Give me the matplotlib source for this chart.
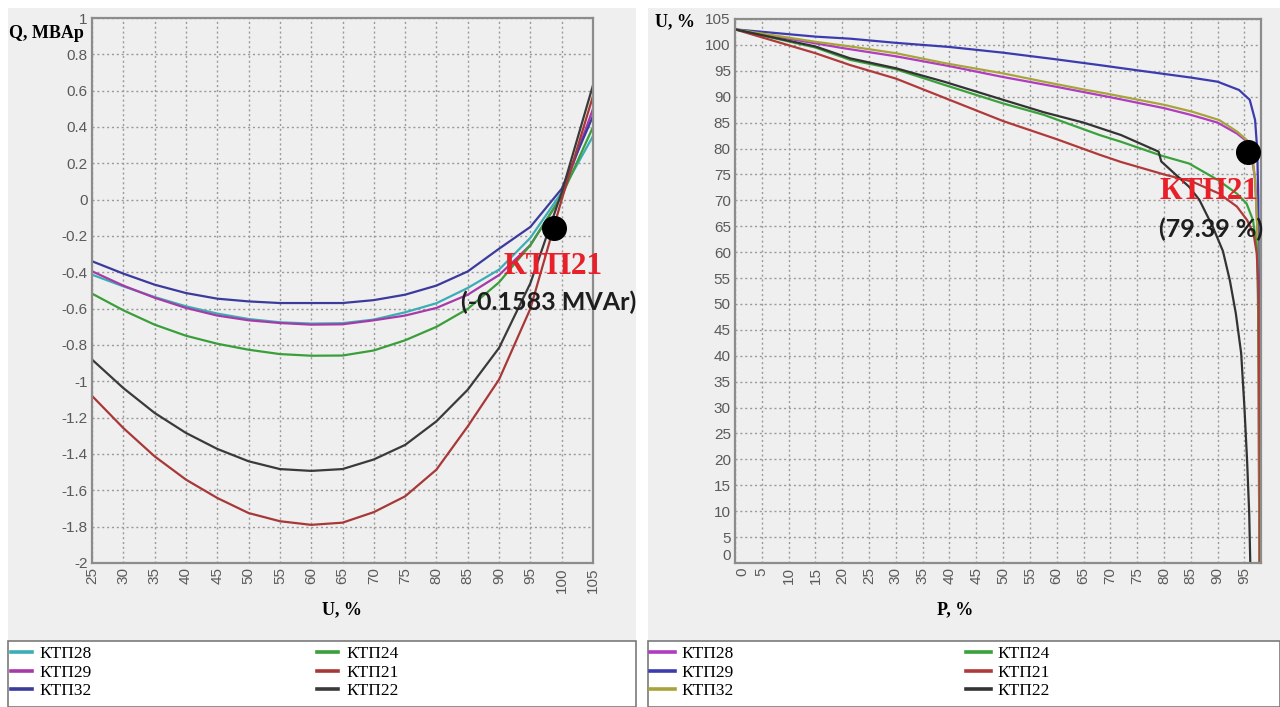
import numpy as np
import matplotlib
matplotlib.use('Agg')
import matplotlib.pyplot as plt
from matplotlib.patches import Rectangle

# ---- left chart: Q (MVAr) vs U (%)
u_left = [25, 30, 35, 40, 45, 50, 55, 60, 65, 70, 75, 80, 85, 90, 95, 100, 105]
q_ktp28 = [-0.413, -0.477, -0.536, -0.587, -0.627, -0.657, -0.675, -0.682, -0.68, -0.66, -0.62, -0.57, -0.486, -0.385, -0.21, 0.04, 0.35]
q_ktp29 = [-0.394, -0.473, -0.54, -0.596, -0.638, -0.664, -0.679, -0.688, -0.686, -0.664, -0.638, -0.596, -0.523, -0.415, -0.25, 0.02, 0.50]
q_ktp32 = [-0.339, -0.407, -0.468, -0.514, -0.545, -0.56, -0.569, -0.569, -0.569, -0.553, -0.523, -0.473, -0.395, -0.27, -0.15, 0.06, 0.46]
q_ktp24 = [-0.517, -0.609, -0.688, -0.749, -0.793, -0.826, -0.85, -0.859, -0.858, -0.83, -0.774, -0.70, -0.601, -0.455, -0.25, 0.02, 0.40]
q_ktp21 = [-1.08, -1.257, -1.413, -1.541, -1.642, -1.725, -1.77, -1.79, -1.778, -1.72, -1.633, -1.486, -1.248, -0.99, -0.60, 0.0, 0.57]
q_ktp22 = [-0.88, -1.037, -1.174, -1.284, -1.372, -1.44, -1.483, -1.493, -1.483, -1.43, -1.35, -1.22, -1.046, -0.816, -0.46, 0.04, 0.63]
q_ticks = ['-2', '-1.8', '-1.6', '-1.4', '-1.2', '-1', '-0.8', '-0.6', '-0.4', '-0.2',
           '0', '0.2', '0.4', '0.6', '0.8', '1']

# ---- right chart: U (%) vs P (%)
p_ktp28 = [0, 10, 20, 30, 40, 50, 60, 70, 80, 85, 90, 93.6, 95.2, 96.3, 97.0, 97.4, 97.6, 97.8]
u_ktp28 = [103, 101.2, 99.4, 97.8, 95.9, 93.8, 91.9, 89.9, 87.8, 86.5, 85.0, 82.9, 81.6, 79.0, 74, 65, 45, 0]
p_ktp29 = [0, 15, 21.5, 30, 40, 50, 60, 68, 75, 85, 90, 94, 96, 97, 97.4, 97.6, 97.7, 97.8]
u_ktp29 = [103, 101.6, 101.2, 100.4, 99.6, 98.5, 97.2, 96.1, 95.1, 93.7, 92.9, 91.3, 89.4, 85.5, 79.7, 70, 50, 0]
p_ktp32 = [0, 15, 21.5, 30, 39, 50, 57.6, 65, 69.3, 80.2, 85.3, 90.3, 93.6, 95.5, 96.4, 97.0, 97.4, 97.6, 97.8]
u_ktp32 = [103, 100.6, 99.7, 98.4, 96.5, 94.5, 92.9, 91.4, 90.6, 88.4, 87.1, 85.5, 83.3, 81.6, 79.5, 74, 65, 45, 0]
p_ktp24 = [0, 15, 21.5, 30, 39, 50, 57.6, 68, 72, 79.6, 84.7, 90.1, 93.6, 95.4, 96.6, 97.4, 97.6, 97.8, 97.9]
u_ktp24 = [103, 99.5, 97.1, 95.3, 92.3, 88.7, 86.5, 82.6, 81.3, 78.6, 77.1, 73.9, 71.3, 69.4, 66.2, 60.4, 50.7, 30, 0]
p_ktp21 = [0, 15, 21.5, 30, 40, 50, 60, 68, 72, 80, 85.3, 90.3, 93.6, 95.5, 96.7, 97.3, 97.6, 97.8, 97.9]
u_ktp21 = [103, 98.4, 96.1, 93.5, 89.4, 85.3, 81.8, 78.8, 77.4, 75.0, 73.6, 71.3, 68.8, 66.2, 63.6, 59.8, 54, 30, 0]
p_ktp22 = [0, 15, 21.5, 30, 39, 50, 57.6, 65, 72, 79, 79.5, 84.7, 86.6, 89.1, 91.0, 92.3, 93.4, 94.4, 95.0, 95.5, 95.9, 96.1]
u_ktp22 = [103, 99.7, 97.4, 95.5, 92.9, 89.4, 87.0, 85.0, 82.6, 79.4, 77.5, 72.6, 70.1, 64.9, 60.2, 54.5, 48.2, 40.5, 30.2, 19.9, 9.6, 0]

# marked points
mark_left = (98.8, -0.1583)
mark_right = (95.6, 79.39)

W, H = 1280, 707
BG = '#efefef'
GRID = '#9a9a9a'
SPINE = '#8c8c8c'
TICK = '#5a5a5a'


def fx(x):
    return x / W


def fy(y):
    return 1 - y / H


fig = plt.figure(figsize=(W / 100, H / 100), dpi=100, facecolor='white')

# panel backgrounds and legend boxes
for x0, x1 in [(8, 636), (648, 1280)]:
    fig.add_artist(Rectangle((fx(x0), fy(641)), fx(x1 - x0), (641 - 8) / H,
                             transform=fig.transFigure, facecolor=BG, edgecolor='none', zorder=-2))
fig.add_artist(Rectangle((fx(8), fy(707)), fx(636 - 8), 66 / H, transform=fig.transFigure,
                         facecolor='white', edgecolor='#7a7a7a', lw=1.2, zorder=-1))
fig.add_artist(Rectangle((fx(648), fy(707)), fx(1280 - 648), 66 / H, transform=fig.transFigure,
                         facecolor='white', edgecolor='#7a7a7a', lw=1.2, zorder=-1))

ax1 = fig.add_axes([fx(92), fy(563), fx(593 - 92), (563 - 18) / H])
ax2 = fig.add_axes([fx(735), fy(563), fx(1261 - 735), (563 - 19) / H])

for ax in (ax1, ax2):
    ax.set_facecolor(BG)
    ax.grid(True, color=GRID, linestyle=(0, (1.5, 2)), linewidth=1)
    for s in ax.spines.values():
        s.set_color(SPINE)
        s.set_linewidth(1.6)
    ax.tick_params(length=0, pad=3, labelcolor=TICK, labelsize=11)
    ax.tick_params(axis='x', labelrotation=90)

lw = 1.6
# left chart
l1 = ax1.plot(u_left, q_ktp28, color='#3aaeb4', lw=lw, label='КТП28')[0]
l2 = ax1.plot(u_left, q_ktp29, color='#a73aa8', lw=lw, label='КТП29')[0]
l3 = ax1.plot(u_left, q_ktp32, color='#3c3a9c', lw=lw, label='КТП32')[0]
l4 = ax1.plot(u_left, q_ktp24, color='#3a9e3a', lw=lw, label='КТП24')[0]
l5 = ax1.plot(u_left, q_ktp21, color='#a83838', lw=lw, label='КТП21')[0]
l6 = ax1.plot(u_left, q_ktp22, color='#3a3a3a', lw=lw, label='КТП22')[0]
ax1.plot(*mark_left, 'o', color='black', ms=17, clip_on=False, zorder=5)
ax1.set_xlim(25, 105)
ax1.set_ylim(-2, 1)
ax1.set_xticks(np.arange(25, 106, 5))
ax1.set_yticks(np.linspace(-2, 1, 16))
ax1.set_yticklabels(q_ticks, family='Liberation Sans')
ax1.set_xticklabels([str(v) for v in range(25, 106, 5)], family='Liberation Sans')

# right chart
r1 = ax2.plot(p_ktp28, u_ktp28, color='#b03cc0', lw=lw, label='КТП28')[0]
r2 = ax2.plot(p_ktp29, u_ktp29, color='#3c3cb0', lw=lw, label='КТП29')[0]
r3 = ax2.plot(p_ktp32, u_ktp32, color='#a8a43c', lw=lw, label='КТП32')[0]
r4 = ax2.plot(p_ktp24, u_ktp24, color='#3aa23a', lw=lw, label='КТП24')[0]
r5 = ax2.plot(p_ktp21, u_ktp21, color='#b03a3a', lw=lw, label='КТП21')[0]
r6 = ax2.plot(p_ktp22, u_ktp22, color='#333333', lw=lw, label='КТП22')[0]
ax2.plot(*mark_right, 'o', color='black', ms=17, clip_on=False, zorder=5)
ax2.set_xlim(0, 98.1)
ax2.set_ylim(0, 105)
ax2.set_xticks(np.arange(0, 96, 5))
ax2.set_yticks(np.arange(0, 106, 5))
ax2.set_xticklabels([str(v) for v in range(0, 96, 5)], family='Liberation Sans')
ax2.set_yticklabels([str(v) for v in range(0, 106, 5)], family='Liberation Sans')
# corner labels sit close together in the original; nudge them apart a little
ax2.get_yticklabels()[0].set_va('bottom')
ax2.get_xticklabels()[0].set_ha('left')

# axis titles
tfont = dict(family='Liberation Serif', weight='bold', size=13)
ax1.set_ylabel('Q, MBAp', rotation=0, ha='left', va='center', **tfont)
ax1.yaxis.set_label_coords((9 - 92) / 501, 1 - (33 - 18) / 545)
ax1.set_xlabel('U, %', va='center', **tfont)
ax1.xaxis.set_label_coords(0.5, -(610 - 563) / 545)
ax2.set_ylabel('U, %', rotation=0, ha='left', va='center', **tfont)
ax2.yaxis.set_label_coords((655 - 735) / 526, 1 - (22 - 19) / 544)
ax2.set_xlabel('P, %', va='center', **tfont)
ax2.xaxis.set_label_coords((955 - 735) / 526, -(610 - 563) / 544)

# annotations
red_font = dict(family='Liberation Serif', weight='bold', size=22.5, color='#e8202a')
val_font = dict(family='Lato', weight='bold', size=18, color='#1e1e1e')
ax1.annotate('КТП21', xy=mark_left, xytext=(-1, -38), textcoords='offset pixels',
             ha='center', va='center', annotation_clip=False, **red_font)
ax1.annotate('(-0.1583 MVAr)', xy=mark_left, xytext=(-6, -74), textcoords='offset pixels',
             ha='center', va='center', annotation_clip=False, **val_font)
ax2.annotate('КТП21', xy=mark_right, xytext=(-39, -40), textcoords='offset pixels',
             ha='center', va='center', annotation_clip=False, **red_font)
ax2.annotate('(79.39 %)', xy=mark_right, xytext=(-37, -78), textcoords='offset pixels',
             ha='center', va='center', annotation_clip=False, **val_font)

# legends
lprop = {'family': 'Liberation Serif', 'size': 12.5}
leg1 = fig.legend(handles=[l1, l2, l3, l4, l5, l6], ncol=2, loc='upper left',
                  bbox_to_anchor=(fx(9), fy(644)), frameon=False, prop=lprop,
                  handlelength=1.2, handletextpad=0.45, columnspacing=13.0,
                  labelspacing=0.15, borderpad=0.1, borderaxespad=0)
leg2 = fig.legend(handles=[r1, r2, r3, r4, r5, r6], ncol=2, loc='upper left',
                  bbox_to_anchor=(fx(648), fy(644)), frameon=False, prop=lprop,
                  handlelength=1.45, handletextpad=0.35, columnspacing=13.4,
                  labelspacing=0.15, borderpad=0.1, borderaxespad=0)
for leg in (leg1, leg2):
    for ln in leg.get_lines():
        ln.set_linewidth(2.6)

fig.savefig('out.png', dpi=100, facecolor='white')
